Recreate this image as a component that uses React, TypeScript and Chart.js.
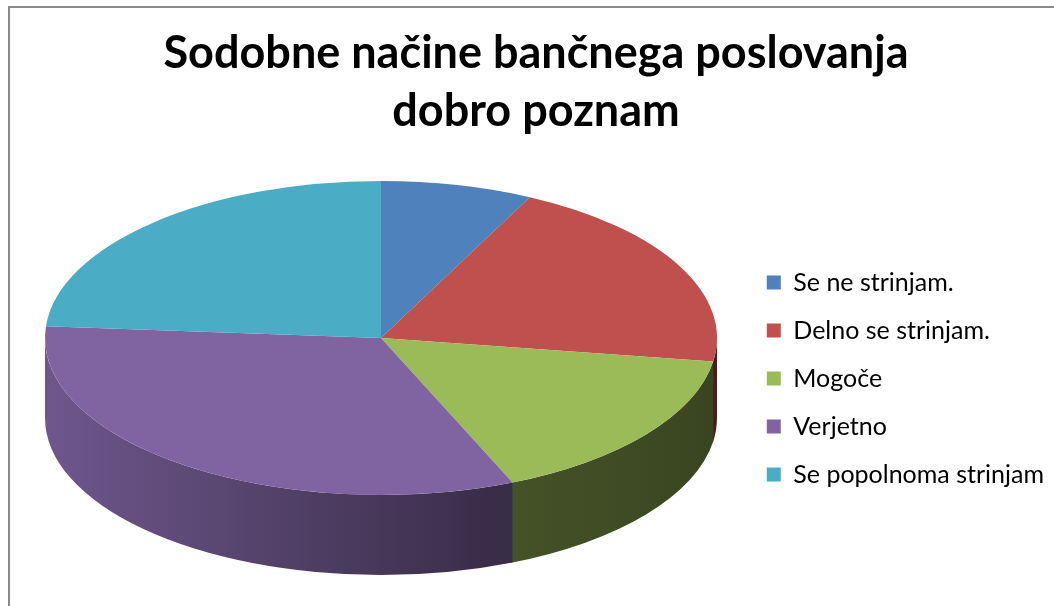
import React, { useEffect, useRef } from "react";
import { Chart, registerables } from "chart.js";

Chart.register(...registerables);

const categories = [
  "Se ne strinjam.",
  "Delno se strinjam.",
  "Mogoče",
  "Verjetno",
  "Se popolnoma strinjam",
];
const values = [7.3, 20.1, 16.2, 32.6, 23.8];
const colors = ["#4F81BD", "#C0504D", "#9BBB59", "#8064A2", "#4BACC6"];
const titleLines = ["Sodobne načine bančnega poslovanja", "dobro poznam"];

// 3D pie projection (layout only)
const PIE = { cx: 381, cy: 338, rx: 336, ry: 157, depth: 80 };
const WALL_SHADE: [number, number][] = [
  [0, 0.87],
  [0.1, 0.8],
  [0.22, 0.73],
  [0.66, 0.45],
  [1, 0.37],
];

function shade(hex: string, f: number) {
  const n = parseInt(hex.slice(1), 16);
  const r = Math.round(((n >> 16) & 255) * f);
  const g = Math.round(((n >> 8) & 255) * f);
  const b = Math.round((n & 255) * f);
  return `rgb(${r},${g},${b})`;
}

const frame = {
  id: "frame",
  beforeDraw(chart: any) {
    const ctx = chart.ctx;
    ctx.save();
    ctx.fillStyle = "#ffffff";
    ctx.fillRect(0, 0, chart.width, chart.height);
    ctx.strokeStyle = "#8a8a8a";
    ctx.lineWidth = 2;
    ctx.strokeRect(9, 7, chart.width + 50, chart.height + 50);
    ctx.restore();
  },
};

const pie3d = {
  id: "pie3d",
  beforeDatasetsDraw(chart: any) {
    const meta = chart.getDatasetMeta(0);
    const arcs = meta.data;
    chart.$pieSaved = false;
    if (!arcs.length) return;
    const p0 = arcs[0].getProps(["x", "y", "outerRadius"], true);
    const ax = p0.x, ay = p0.y, R = p0.outerRadius;
    if (!R) return;
    const ctx = chart.ctx;
    const sx = PIE.rx / R;
    const sy = PIE.ry / R;
    ctx.save();
    chart.$pieSaved = true;
    ctx.translate(PIE.cx, PIE.cy);
    ctx.scale(sx, sy);
    ctx.translate(-ax, -ay);
    const d = PIE.depth / sy;
    arcs.forEach((arc: any, i: number) => {
      const a = arc.getProps(["startAngle", "endAngle"], true);
      const a1 = Math.max(a.startAngle, 0);
      const a2 = Math.min(a.endAngle + 0.004, Math.PI);
      if (a2 <= a1) return;
      const g = ctx.createLinearGradient(ax - R, 0, ax + R, 0);
      WALL_SHADE.forEach(([p, f]) => g.addColorStop(p, shade(colors[i], f)));
      ctx.beginPath();
      ctx.arc(ax, ay, R, a1, a2);
      ctx.arc(ax, ay + d, R, a2, a1, true);
      ctx.closePath();
      ctx.fillStyle = g;
      ctx.fill();
    });
  },
  afterDatasetsDraw(chart: any) {
    if (chart.$pieSaved) {
      chart.ctx.restore();
      chart.$pieSaved = false;
    }
  },
};

export default function App() {
  const ref = useRef<HTMLCanvasElement | null>(null);
  useEffect(() => {
    if (!ref.current) return;
    const chart = new Chart(ref.current, {
      type: "pie",
      data: {
        labels: categories,
        datasets: [
          {
            data: values,
            backgroundColor: colors,
            borderWidth: 0,
            clip: false as any,
          },
        ],
      },
      options: {
        responsive: false,
        animation: false,
        events: [],
        layout: { padding: { left: 18, right: 0, top: 0, bottom: 0 } },
        plugins: {
          title: {
            display: true,
            text: titleLines,
            color: "#000000",
            font: { family: "Lato", weight: "bold", size: 45, lineHeight: 1.289 },
            padding: { top: 24, bottom: 107 },
          },
          legend: {
            position: "right",
            align: "start",
            fullSize: false,
            labels: {
              color: "#000000",
              font: { family: "Lato", size: 25 },
              boxWidth: 14,
              boxHeight: 14,
              padding: 23,
            },
          },
          tooltip: { enabled: false },
        },
      },
      plugins: [frame, pie3d],
    });
    return () => chart.destroy();
  }, []);
  return (
    <div style={{ position: "fixed", left: 0, top: 0, width: 1054, height: 606 }}>
      <canvas ref={ref} width={1054} height={606} style={{ display: "block" }} />
    </div>
  );
}
